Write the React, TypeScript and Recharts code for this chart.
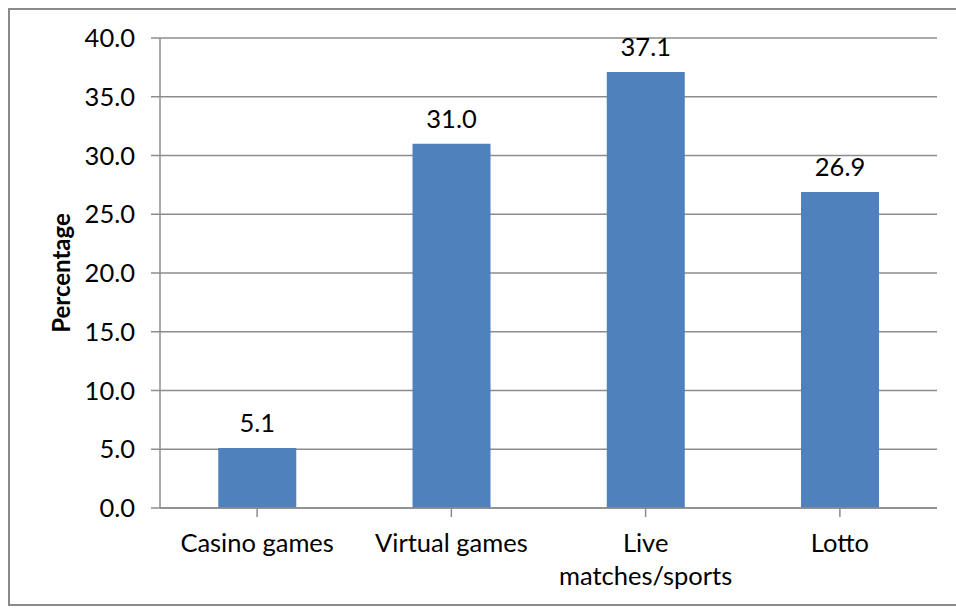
import React from "react";
import { BarChart, Bar, XAxis, YAxis, CartesianGrid, LabelList, Label } from "recharts";

const categories = ["Casino games", "Virtual games", "Live matches/sports", "Lotto"];
const values = [5.1, 31.0, 37.1, 26.9];
const yTicks = [0, 5, 10, 15, 20, 25, 30, 35, 40];

const data = categories.map((c, i) => ({ name: c, value: values[i] }));

const FONT = "Lato, 'Open Sans', sans-serif";
const FS = 25.5;

const XTick = (props: any) => {
  const { x, y, payload } = props;
  const label: string = payload.value;
  const lines = label === "Live matches/sports" ? ["Live", "matches/sports"] : [label];
  return (
    <g>
      {lines.map((l, i) => (
        <text
          key={i}
          x={x}
          y={y + i * 33}
          dy="0.71em"
          textAnchor="middle"
          fill="#000"
          fontFamily={FONT}
          fontSize={FS}
        >
          {l}
        </text>
      ))}
    </g>
  );
};

export default function App() {
  return (
    <div
      style={{
        position: "absolute",
        left: 8,
        top: 8,
        width: 948,
        height: 598,
        overflow: "hidden",
        borderLeft: "2px solid #8a8a8a",
        borderTop: "2px solid #8a8a8a",
        borderBottom: "2px solid #8a8a8a",
        boxSizing: "border-box",
        background: "#fff",
      }}
    >
      <BarChart
        width={960}
        height={596}
        data={data}
        margin={{ top: 28, right: 33, left: 0, bottom: 0 }}
        barCategoryGap="30%"
        style={{ fontFamily: FONT }}
        accessibilityLayer={false}
      >
        <CartesianGrid vertical={false} stroke="#8c8c8c" strokeWidth={1.5} />
        <XAxis
          dataKey="name"
          height={98}
          tick={<XTick />}
          tickLine={{ stroke: "#8c8c8c", strokeWidth: 1.5 }}
          axisLine={{ stroke: "#8c8c8c", strokeWidth: 1.5 }}
          tickSize={9}
          tickMargin={17}
          interval={0}
          scale="band"
        />
        <YAxis
          width={150}
          domain={[0, 40]}
          ticks={yTicks}
          tickFormatter={(v: number) => v.toFixed(1)}
          tick={{ fill: "#000", fontSize: FS, fontFamily: FONT }}
          tickLine={{ stroke: "#8c8c8c", strokeWidth: 1.5 }}
          axisLine={{ stroke: "#8c8c8c", strokeWidth: 1.5 }}
          tickSize={9}
          tickMargin={16}
        >
          <Label
            value="Percentage"
            angle={-90}
            position="insideLeft"
            offset={51}
            style={{ fontWeight: "bold", fontSize: 24, fill: "#000", fontFamily: FONT, textAnchor: "middle" }}
          />
        </YAxis>
        <Bar dataKey="value" fill="#4F81BD" isAnimationActive={false}>
          <LabelList
            dataKey="value"
            position="top"
            offset={16}
            formatter={(v: number) => v.toFixed(1)}
            style={{ fill: "#000", fontSize: FS, fontFamily: FONT }}
          />
        </Bar>
      </BarChart>
    </div>
  );
}
